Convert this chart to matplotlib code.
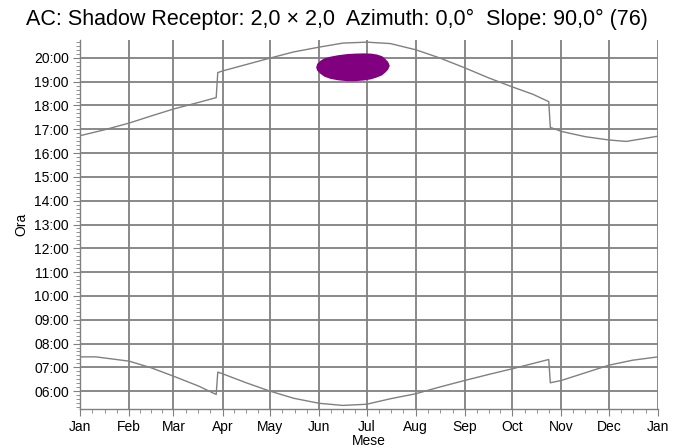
import matplotlib
matplotlib.use("Agg")
import matplotlib.pyplot as plt
from matplotlib.ticker import FixedLocator, MultipleLocator, FuncFormatter

plt.rcParams['font.family'] = ['Liberation Sans', 'DejaVu Sans']

# month boundaries (day of year) and labels
month_days = [0, 31, 59, 90, 120, 151, 181, 212, 243, 273, 304, 334, 365]
month_labels = ["Jan", "Feb", "Mar", "Apr", "May", "Jun", "Jul", "Aug",
                "Sep", "Oct", "Nov", "Dec", "Jan"]

# sunset curve (hours, local time with DST jumps)
set_days = [0, 15, 31, 45, 59, 75, 86, 87, 90, 105, 120, 135, 151, 166, 181,
            196, 212, 227, 243, 258, 273, 286, 296, 297, 304, 319, 334, 345, 365]
set_hours = [16.73, 16.97, 17.26, 17.56, 17.85, 18.13, 18.33, 19.38, 19.45,
             19.72, 19.99, 20.25, 20.45, 20.62, 20.66, 20.60, 20.34, 20.00,
             19.58, 19.16, 18.78, 18.47, 18.16, 17.08, 16.91, 16.69, 16.55,
             16.49, 16.71]

# sunrise curve
rise_days = [0, 10, 31, 45, 59, 75, 86, 87, 90, 105, 120, 135, 151, 166, 181,
             196, 212, 227, 243, 258, 273, 286, 296, 297, 304, 319, 334, 349, 365]
rise_hours = [7.44, 7.44, 7.26, 6.98, 6.63, 6.21, 5.86, 6.80, 6.73, 6.35,
              6.00, 5.70, 5.49, 5.40, 5.45, 5.68, 5.89, 6.17, 6.45, 6.70,
              6.94, 7.16, 7.33, 6.35, 6.45, 6.77, 7.09, 7.30, 7.44]

# shadow period (purple area)
shadow_days = [148.8, 149.5, 151.5, 154.0, 157.8, 162.5, 168.4, 173.5, 178.9,
               183.5, 187.3, 190.5, 192.6, 194.3, 195.3]
shadow_start = [19.62, 19.48, 19.35, 19.23, 19.14, 19.08, 19.04, 19.04, 19.07,
                19.12, 19.20, 19.29, 19.41, 19.53, 19.69]
shadow_end = [19.62, 19.77, 19.90, 20.00, 20.07, 20.13, 20.18, 20.20, 20.21,
              20.20, 20.16, 20.09, 19.97, 19.85, 19.69]

grey = "#808080"

fig = plt.figure(figsize=(6.74, 4.48), dpi=100)
ax = fig.add_axes([80/674, 1 - 409/448, 578/674, 369/448])

ax.fill_between(shadow_days, shadow_start, shadow_end, color="#800080",
                linewidth=0, zorder=3)
ax.plot(set_days, set_hours, color=grey, lw=1.0, zorder=4)
ax.plot(rise_days, rise_hours, color=grey, lw=1.0, zorder=4)

ax.set_xlim(0, 365)
ax.set_ylim(5.25, 20.75)

ax.xaxis.set_major_locator(FixedLocator(month_days))
ax.set_xticklabels(month_labels)
minor_x = []
for i in range(12):
    a, b = month_days[i], month_days[i + 1]
    minor_x += [a + (b - a) * k / 4 for k in (1, 2, 3)]
ax.xaxis.set_minor_locator(FixedLocator(minor_x))

ax.yaxis.set_major_locator(FixedLocator(range(6, 21)))
ax.yaxis.set_major_formatter(FuncFormatter(lambda v, p: "%02d:00" % int(round(v))))
ax.yaxis.set_minor_locator(MultipleLocator(1 / 6))

ax.grid(True, which="major", color=grey, lw=1.3)
ax.set_axisbelow(True)

for s in ["top", "right"]:
    ax.spines[s].set_visible(False)
for s in ["left", "bottom"]:
    ax.spines[s].set_color(grey)
    ax.spines[s].set_linewidth(1.0)

ax.tick_params(which="major", length=5, color=grey, labelsize=10, pad=3)
ax.tick_params(which="minor", length=3, color=grey)

ax.set_xlabel("Mese", fontsize=10, labelpad=0)
ax.set_ylabel("Ora", fontsize=10, labelpad=4)

fig.text(0.5, 1 - 19/448, "AC: Shadow Receptor: 2,0 \u00d7 2,0  Azimuth: 0,0\u00b0  Slope: 90,0\u00b0 (76)",
         ha="center", va="center", fontsize=15.5)

fig.savefig("out.png", dpi=100)
